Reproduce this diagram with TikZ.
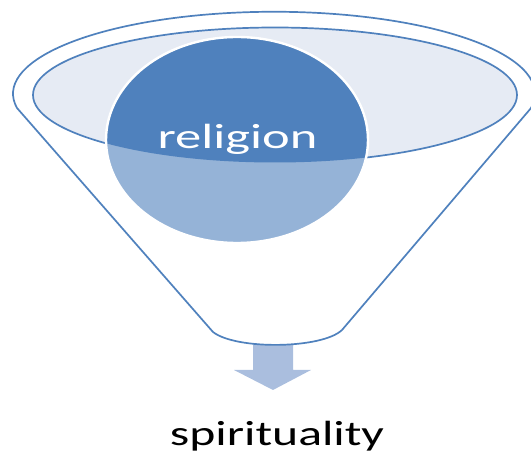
\documentclass[tikz,border=0pt]{standalone}
\usepackage{fontspec}
\usepackage{tikz}
\usetikzlibrary{positioning}
\usepackage{xcolor}
\newfontfamily\calibrifont{Carlito}

\definecolor{funnelblue}{RGB}{79,129,189}
\definecolor{rimfill}{RGB}{230,235,244}
\definecolor{balllight}{RGB}{149,179,215}
\definecolor{arrowfill}{RGB}{170,190,222}

\begin{document}
\begin{tikzpicture}[
  x=1pt, y=-1pt,
  funnel/.style={draw=funnelblue, line width=1.7pt, fill=white, line join=round},
  rim/.style={draw=funnelblue, line width=1.7pt, fill=rimfill},
  ball/.style={fill=balllight},
  balltop/.style={fill=funnelblue},
  ballrim/.style={draw=white, line width=2.4pt},
  label/.style={font=\calibrifont\fontsize{35}{40}\selectfont, inner sep=0pt, anchor=base},
  outarrow/.style={fill=arrowfill}
]
\useasboundingbox (0,0) rectangle (531,454);

% --- Pfeil unter dem Trichter ---
\fill[outarrow] (253,338) -- (293,338) -- (293,370) -- (311,370)
  -- (273,390) -- (234,370) -- (253,370) -- cycle;

% --- Trichter ---
\coordinate (rimleft) at (17,108);
\coordinate (rimright) at (531,108);
\coordinate (neckright) at (342,330);
\coordinate (neckleft) at (213,332);
\draw[funnel] (rimleft) arc[start angle=190, end angle=-10, x radius=261pt, y radius=82pt]
  -- (neckright) .. controls (322,349) and (236,350) .. (neckleft) -- cycle;

% --- Oeffnung ---
\path[rim] (275,95) ellipse [x radius=242pt, y radius=67.5pt];

% --- Kugel ---
\fill[ball] (237,140) ellipse [x radius=131pt, y radius=103pt];
\begin{scope}
  \clip (275,95) ellipse [x radius=242pt, y radius=67.5pt];
  \fill[balltop] (237,140) ellipse [x radius=131pt, y radius=103pt];
\end{scope}
\draw[ballrim] (237,140) ellipse [x radius=131pt, y radius=103pt];

% --- Texte ---
\node[label, text=white] (religion) at (237.5,149) {\scalebox{1.5}[1]{religion}};
\node[label, text=black] (spirituality) at (277,446) {\scalebox{1.42}[1]{spirituality}};

\end{tikzpicture}
\end{document}
